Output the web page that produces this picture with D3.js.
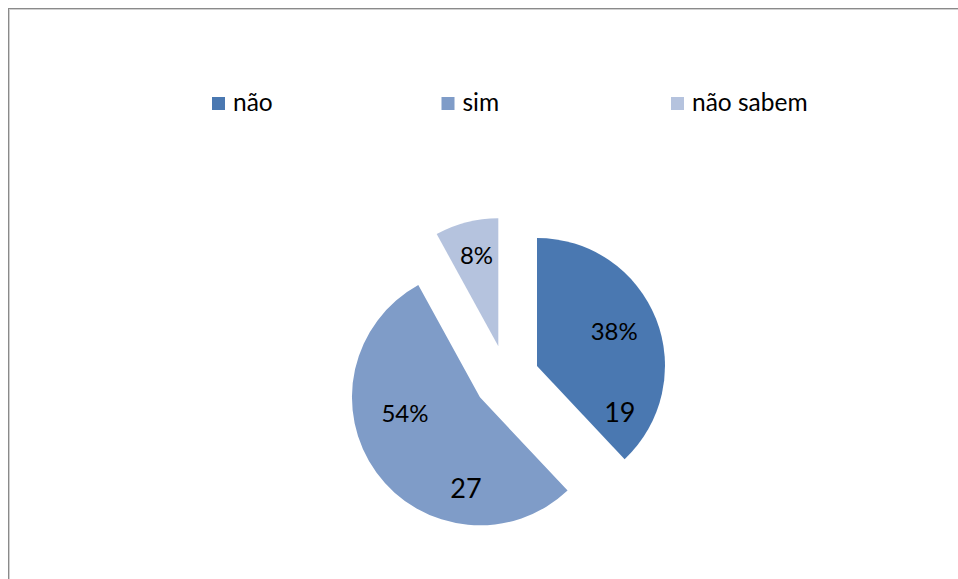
<!DOCTYPE html>
<html>
<head>
<meta charset="utf-8">
<script src="https://cdn.jsdelivr.net/npm/d3@7"></script>
<style>
  body { margin: 0; background: #fff; }
  svg { display: block; font-family: Lato, "Open Sans", sans-serif; }
</style>
</head>
<body>
<div id="chart"></div>
<script>
// data
const categories = ["não", "sim", "não sabem"]
const counts = [19, 27, 4]
const percents = ["38%", "54%", "8%"]
const showCount = [true, true, false]
const colors = ["#4a78b1", "#7f9cc8", "#b5c3de"]

// label placement inside each slice: fraction of the slice's angle, fraction of radius
const pctPlace = [[0.483, 0.66], [0.621, 0.60], [0.53, 0.73]]
const cntPlace = [[0.87, 0.74], [0.267, 0.72], [0.5, 0.7]]

let width = 958
let height = 579
let cx = 506.5, cy = 378
let radius = 128
let explode = 32.8

let svg = d3.select("#chart")
            .append("svg")
            .attr("width", width)
            .attr("height", height)

// chart area frame (only top / left visible)
svg.append("rect")
   .attr("x", 8.5).attr("y", 8.5)
   .attr("width", width).attr("height", height)
   .attr("fill", "none")
   .attr("stroke", "#8a8a8a")
svg.append("rect")
   .attr("x", 9.5).attr("y", 9.5)
   .attr("width", width).attr("height", height)
   .attr("fill", "none")
   .attr("stroke", "#d0d0d0")

let color = d3.scaleOrdinal().domain(categories).range(colors)

let pie = d3.pie().sort(null).value(d => d.count)
let arc = d3.arc().innerRadius(0).outerRadius(radius)

let rows = categories.map((c, i) => ({cat: c, count: counts[i], pct: percents[i], i: i}))
let arcs = pie(rows)

let g = svg.append("g").attr("transform", `translate(${cx},${cy})`)

let slices = g.selectAll("g.slice")
  .data(arcs)
  .join("g")
  .attr("class", "slice")
  .attr("transform", d => {
    let mid = (d.startAngle + d.endAngle) / 2
    return `translate(${Math.sin(mid) * explode},${-Math.cos(mid) * explode})`
  })

slices.append("path")
  .attr("d", arc)
  .attr("fill", d => color(d.data.cat))

function polar(d, place) {
  let a = d.startAngle + (d.endAngle - d.startAngle) * place[0]
  let r = radius * place[1]
  return [Math.sin(a) * r, -Math.cos(a) * r]
}

slices.append("text")
  .attr("text-anchor", "middle")
  .attr("dy", "0.36em")
  .attr("x", d => polar(d, pctPlace[d.index])[0])
  .attr("y", d => polar(d, pctPlace[d.index])[1])
  .attr("font-size", 24)
  .attr("fill", "#000")
  .text(d => d.data.pct)

slices.filter(d => showCount[d.index])
  .append("text")
  .attr("text-anchor", "middle")
  .attr("dy", "0.36em")
  .attr("x", d => polar(d, cntPlace[d.index])[0])
  .attr("y", d => polar(d, cntPlace[d.index])[1])
  .attr("font-size", 27)
  .attr("fill", "#000")
  .text(d => d.data.count)

// legend
let legendX = d3.scalePoint().domain(categories).range([212, 671])

let legend = svg.append("g")
  .selectAll("g")
  .data(categories)
  .join("g")
  .attr("transform", d => `translate(${legendX(d)},97)`)

legend.append("rect")
  .attr("width", 13).attr("height", 13)
  .attr("fill", d => color(d))

legend.append("text")
  .attr("x", 21)
  .attr("y", 14)
  .attr("font-size", 24.5)
  .attr("fill", "#000")
  .text(d => d)
</script>
</body>
</html>
